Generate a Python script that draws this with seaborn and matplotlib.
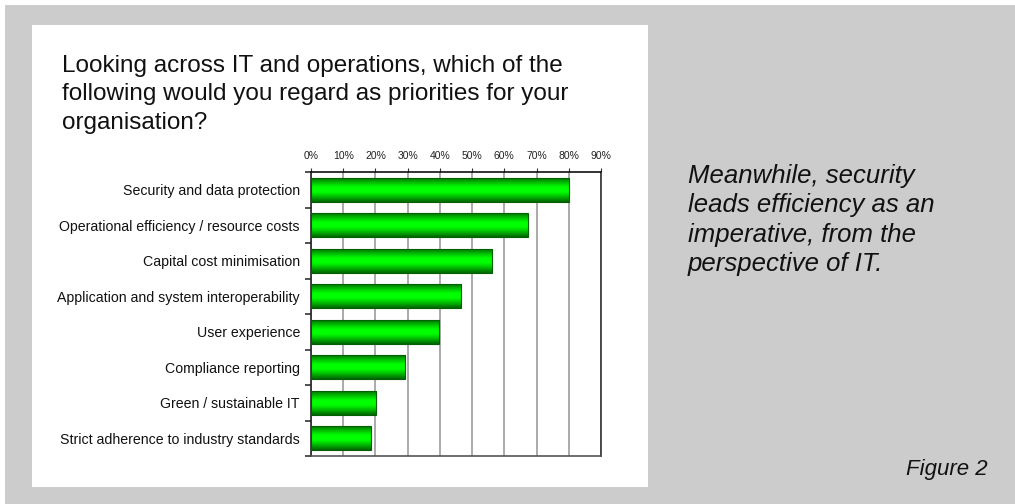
import numpy as np
import pandas as pd
import matplotlib
matplotlib.use("Agg")
import matplotlib.pyplot as plt
from matplotlib.patches import Rectangle
from matplotlib.colors import LinearSegmentedColormap
from matplotlib.ticker import FixedLocator, PercentFormatter
import seaborn as sns

# Survey responses (share of respondents naming each priority)
categories = [
    "Security and data protection",
    "Operational efficiency / resource costs",
    "Capital cost minimisation",
    "Application and system interoperability",
    "User experience",
    "Compliance reporting",
    "Green / sustainable IT",
    "Strict adherence to industry standards",
]
shares = [80.2, 67.3, 56.2, 46.6, 39.8, 29.2, 20.2, 18.6]
x_ticks = [0, 10, 20, 30, 40, 50, 60, 70, 80, 90]

title = ("Looking across IT and operations, which of the\n"
         "following would you regard as priorities for your\n"
         "organisation?")
side_note = ("Meanwhile, security\nleads efficiency as an\n"
             "imperative, from the\nperspective of IT.")
fig_label = "Figure 2"

sns.set_theme(style="white")
plt.rcParams["font.family"] = ["Liberation Sans", "DejaVu Sans"]

W, H = 1015, 504
fig = plt.figure(figsize=(W / 100, H / 100), dpi=100, facecolor="white")

# Grey page and white chart card (pixel coordinates, origin top-left)
def px_rect(x0, y0, x1, y1, color):
    fig.patches.append(Rectangle((x0 / W, 1 - y1 / H), (x1 - x0) / W, (y1 - y0) / H,
                                 transform=fig.transFigure, facecolor=color,
                                 edgecolor="none", zorder=-10))

px_rect(5, 5, W, H, "#cccccc")
px_rect(32, 25, 648, 487, "#ffffff")

ax_l, ax_r, ax_t, ax_b = 311, 601, 172, 456
ax = fig.add_axes([ax_l / W, 1 - ax_b / H, (ax_r - ax_l) / W, (ax_b - ax_t) / H])
ax.set_facecolor("white")

df = pd.DataFrame({"category": categories, "share": shares})
sns.barplot(data=df, x="share", y="category", orient="h", ax=ax,
            color="#00ff00", width=0.68, edgecolor="#006000", linewidth=0.8,
            saturation=1, zorder=3)

# Cylinder-like shading inside each bar
shade = LinearSegmentedColormap.from_list(
    "bar_shade", ["#006400", "#00b800", "#00ff00", "#00ff00", "#00b800", "#006400"])
grad = np.linspace(0, 1, 64).reshape(-1, 1)
for p in ax.patches:
    x0, y0 = p.get_x(), p.get_y()
    w, h = p.get_width(), p.get_height()
    im = ax.imshow(grad, cmap=shade, aspect="auto", interpolation="bicubic",
                   extent=(x0, x0 + w, y0 + h, y0), zorder=3.5)
    im.set_clip_path(p)
    p.set_facecolor("none")
    p.set_zorder(4)
ax.set_xlim(0, 90)
ax.set_ylim(len(categories) - 0.5, -0.5)

# Axis dressing
ax.xaxis.set_major_locator(FixedLocator(x_ticks))
ax.xaxis.set_major_formatter(PercentFormatter(decimals=0))
ax.xaxis.tick_top()
ax.tick_params(axis="x", top=True, bottom=False, length=3, width=0.8,
               color="#333333", labelsize=7.5, labelcolor="#222222", pad=5)
ax.grid(axis="x", color="#aaaaaa", linewidth=1.4, zorder=0)
ax.set_axisbelow(True)

ax.yaxis.set_minor_locator(FixedLocator(np.arange(-0.5, len(categories), 1.0)))
ax.tick_params(axis="y", which="major", length=0, labelsize=10.2,
               labelcolor="#111111", pad=8)
ax.tick_params(axis="y", which="minor", left=True, length=4, width=1.2,
               color="#333333")
ax.set_xlabel("")
ax.set_ylabel("")
for side in ["left", "right", "top", "bottom"]:
    ax.spines[side].set_visible(True)
    ax.spines[side].set_linewidth(1.2)
ax.spines["left"].set_color("#222222")
ax.spines["top"].set_color("#111111")
ax.spines["right"].set_color("#333333")
ax.spines["bottom"].set_color("#555555")

# Text blocks
fig.text(62 / W, 1 - 55 / H, title, ha="left", va="top", fontsize=17.5,
         color="#111111", linespacing=1.38)
fig.text(688 / W, 1 - 164 / H, side_note, ha="left", va="top", fontsize=18.5,
         style="italic", color="#111111", linespacing=1.28)
fig.text(988 / W, 1 - 470 / H, fig_label, ha="right", va="center", fontsize=16,
         style="italic", color="#111111")

fig.savefig("out.png", dpi=100, facecolor=fig.get_facecolor())
